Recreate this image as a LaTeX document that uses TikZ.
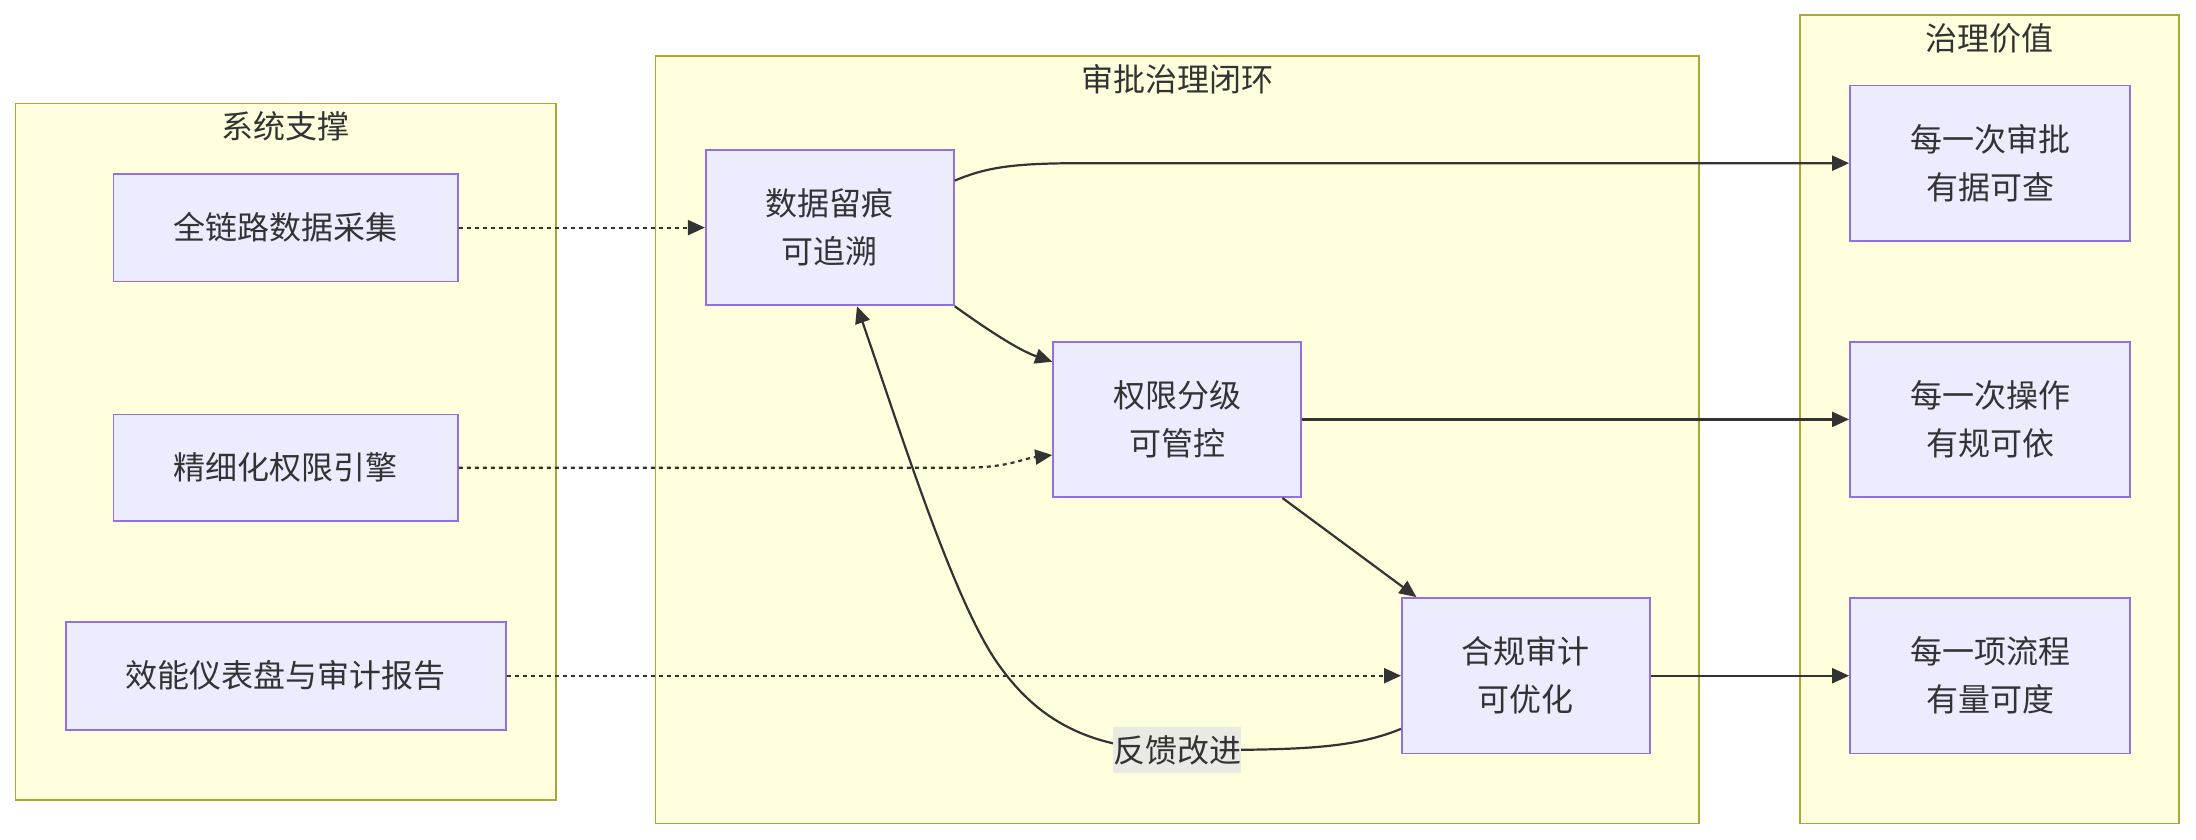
\documentclass[tikz,border=0pt]{standalone}
\usepackage{fontspec}
\setmainfont{Noto Sans CJK SC}
\usetikzlibrary{arrows.meta}
\definecolor{txt}{HTML}{333333}
\definecolor{nodefill}{HTML}{ECECFF}
\definecolor{nodeline}{HTML}{9370DB}
\definecolor{clfill}{HTML}{FFFFDE}
\definecolor{clline}{HTML}{AAAA33}
\definecolor{edgecol}{HTML}{333333}
\definecolor{lblbg}{HTML}{EAEAE4}
\begin{document}
\begin{tikzpicture}[x=1pt,y=-1pt,
  cluster/.style={draw=clline, fill=clfill, line width=1.8pt, inner sep=0pt},
  cltitle/.style={text=txt, font=\fontsize{32}{48}\selectfont, inner sep=0pt},
  box/.style={draw=nodeline, fill=nodefill, line width=1.8pt, text=txt,
    font=\fontsize{32}{48}\selectfont, align=center, inner sep=0pt},
  link/.style={draw=edgecol, line width=2.2pt, -{Triangle[length=17pt,width=15pt]}},
  dotlink/.style={link, dash pattern=on 4pt off 4pt},
  lbl/.style={fill=lblbg, text=txt, font=\fontsize{32}{48}\selectfont,
    inner sep=0pt, minimum width=128pt, minimum height=46pt}
]
\useasboundingbox[fill=white] (0,0) rectangle (2196,840);

% clusters
\node[cluster, minimum width=540.6pt, minimum height=696.1pt] (A) at (285.7,451.65) {};
\node[cltitle] (At) at ([yshift=-24pt]A.north) {系统支撑};
\node[cluster, minimum width=1043.4pt, minimum height=767.5pt] (B) at (1177.1,439.75) {};
\node[cltitle] (Bt) at ([yshift=-24pt]B.north) {审批治理闭环};
\node[cluster, minimum width=379.6pt, minimum height=808.1pt] (C) at (1989.4,419.45) {};
\node[cltitle] (Ct) at ([yshift=-24pt]C.north) {治理价值};

% support nodes
\node[box, minimum width=344.5pt, minimum height=107.8pt] (n1) at (285.7,227.6) {全链路数据采集};
\node[box, minimum width=344.5pt, minimum height=106.5pt] (n2) at (285.7,467.8) {精细化权限引擎};
\node[box, minimum width=439.8pt, minimum height=108pt] (n3) at (285.7,675.7) {效能仪表盘与审计报告};

% loop nodes
\node[box, minimum width=248pt, minimum height=155.5pt] (d1) at (829.8,227.6) {数据留痕\\可追溯};
\node[box, minimum width=248pt, minimum height=155.5pt] (d2) at (1177.1,419.4) {权限分级\\可管控};
\node[box, minimum width=248pt, minimum height=155.5pt] (d3) at (1525.9,675.7) {合规审计\\可优化};

% value nodes
\node[box, minimum width=280pt, minimum height=155.5pt] (v1) at (1990,163.2) {每一次审批\\有据可查};
\node[box, minimum width=280pt, minimum height=155.5pt] (v2) at (1990,419.4) {每一次操作\\有规可依};
\node[box, minimum width=280pt, minimum height=155.5pt] (v3) at (1990,675.7) {每一项流程\\有量可度};

% dotted support links
\draw[dotlink] (n1.east) -- (d1.west);
\draw[dotlink] (n2.east) -- (960,467.8) .. controls (1010,467.8) and (1020,459) .. ([yshift=-35.6pt]d2.west);
\draw[dotlink] (n3.east) -- (d3.west);

% loop links
\draw[link] (d1.south east) .. controls (985,328) and (1018,350) .. ([yshift=-21pt]d2.north west);
\draw[link] ([xshift=-19.5pt]d2.south east) -- ([xshift=15.4pt]d3.north west);

% value links
\draw[link] ([yshift=47pt]d1.east) .. controls (985,168) and (1010,163.2) .. (1080,163.2) -- (v1.west);
\draw[link] (d2.east) -- (v2.west);
\draw[link] (d3.east) -- (v3.west);

% feedback
\coordinate (fb) at (1177,750);
\draw[link] ([yshift=25.5pt]d3.south west) .. controls (1350,750) and (1290,750) .. (fb)
  .. controls (1080,750) and (1030,712) .. (994,658)
  .. controls (950,590) and (900,430) .. ([xshift=27.2pt]d1.south);
\node[lbl] (fbl) at (fb) {反馈改进};
\end{tikzpicture}
\end{document}
